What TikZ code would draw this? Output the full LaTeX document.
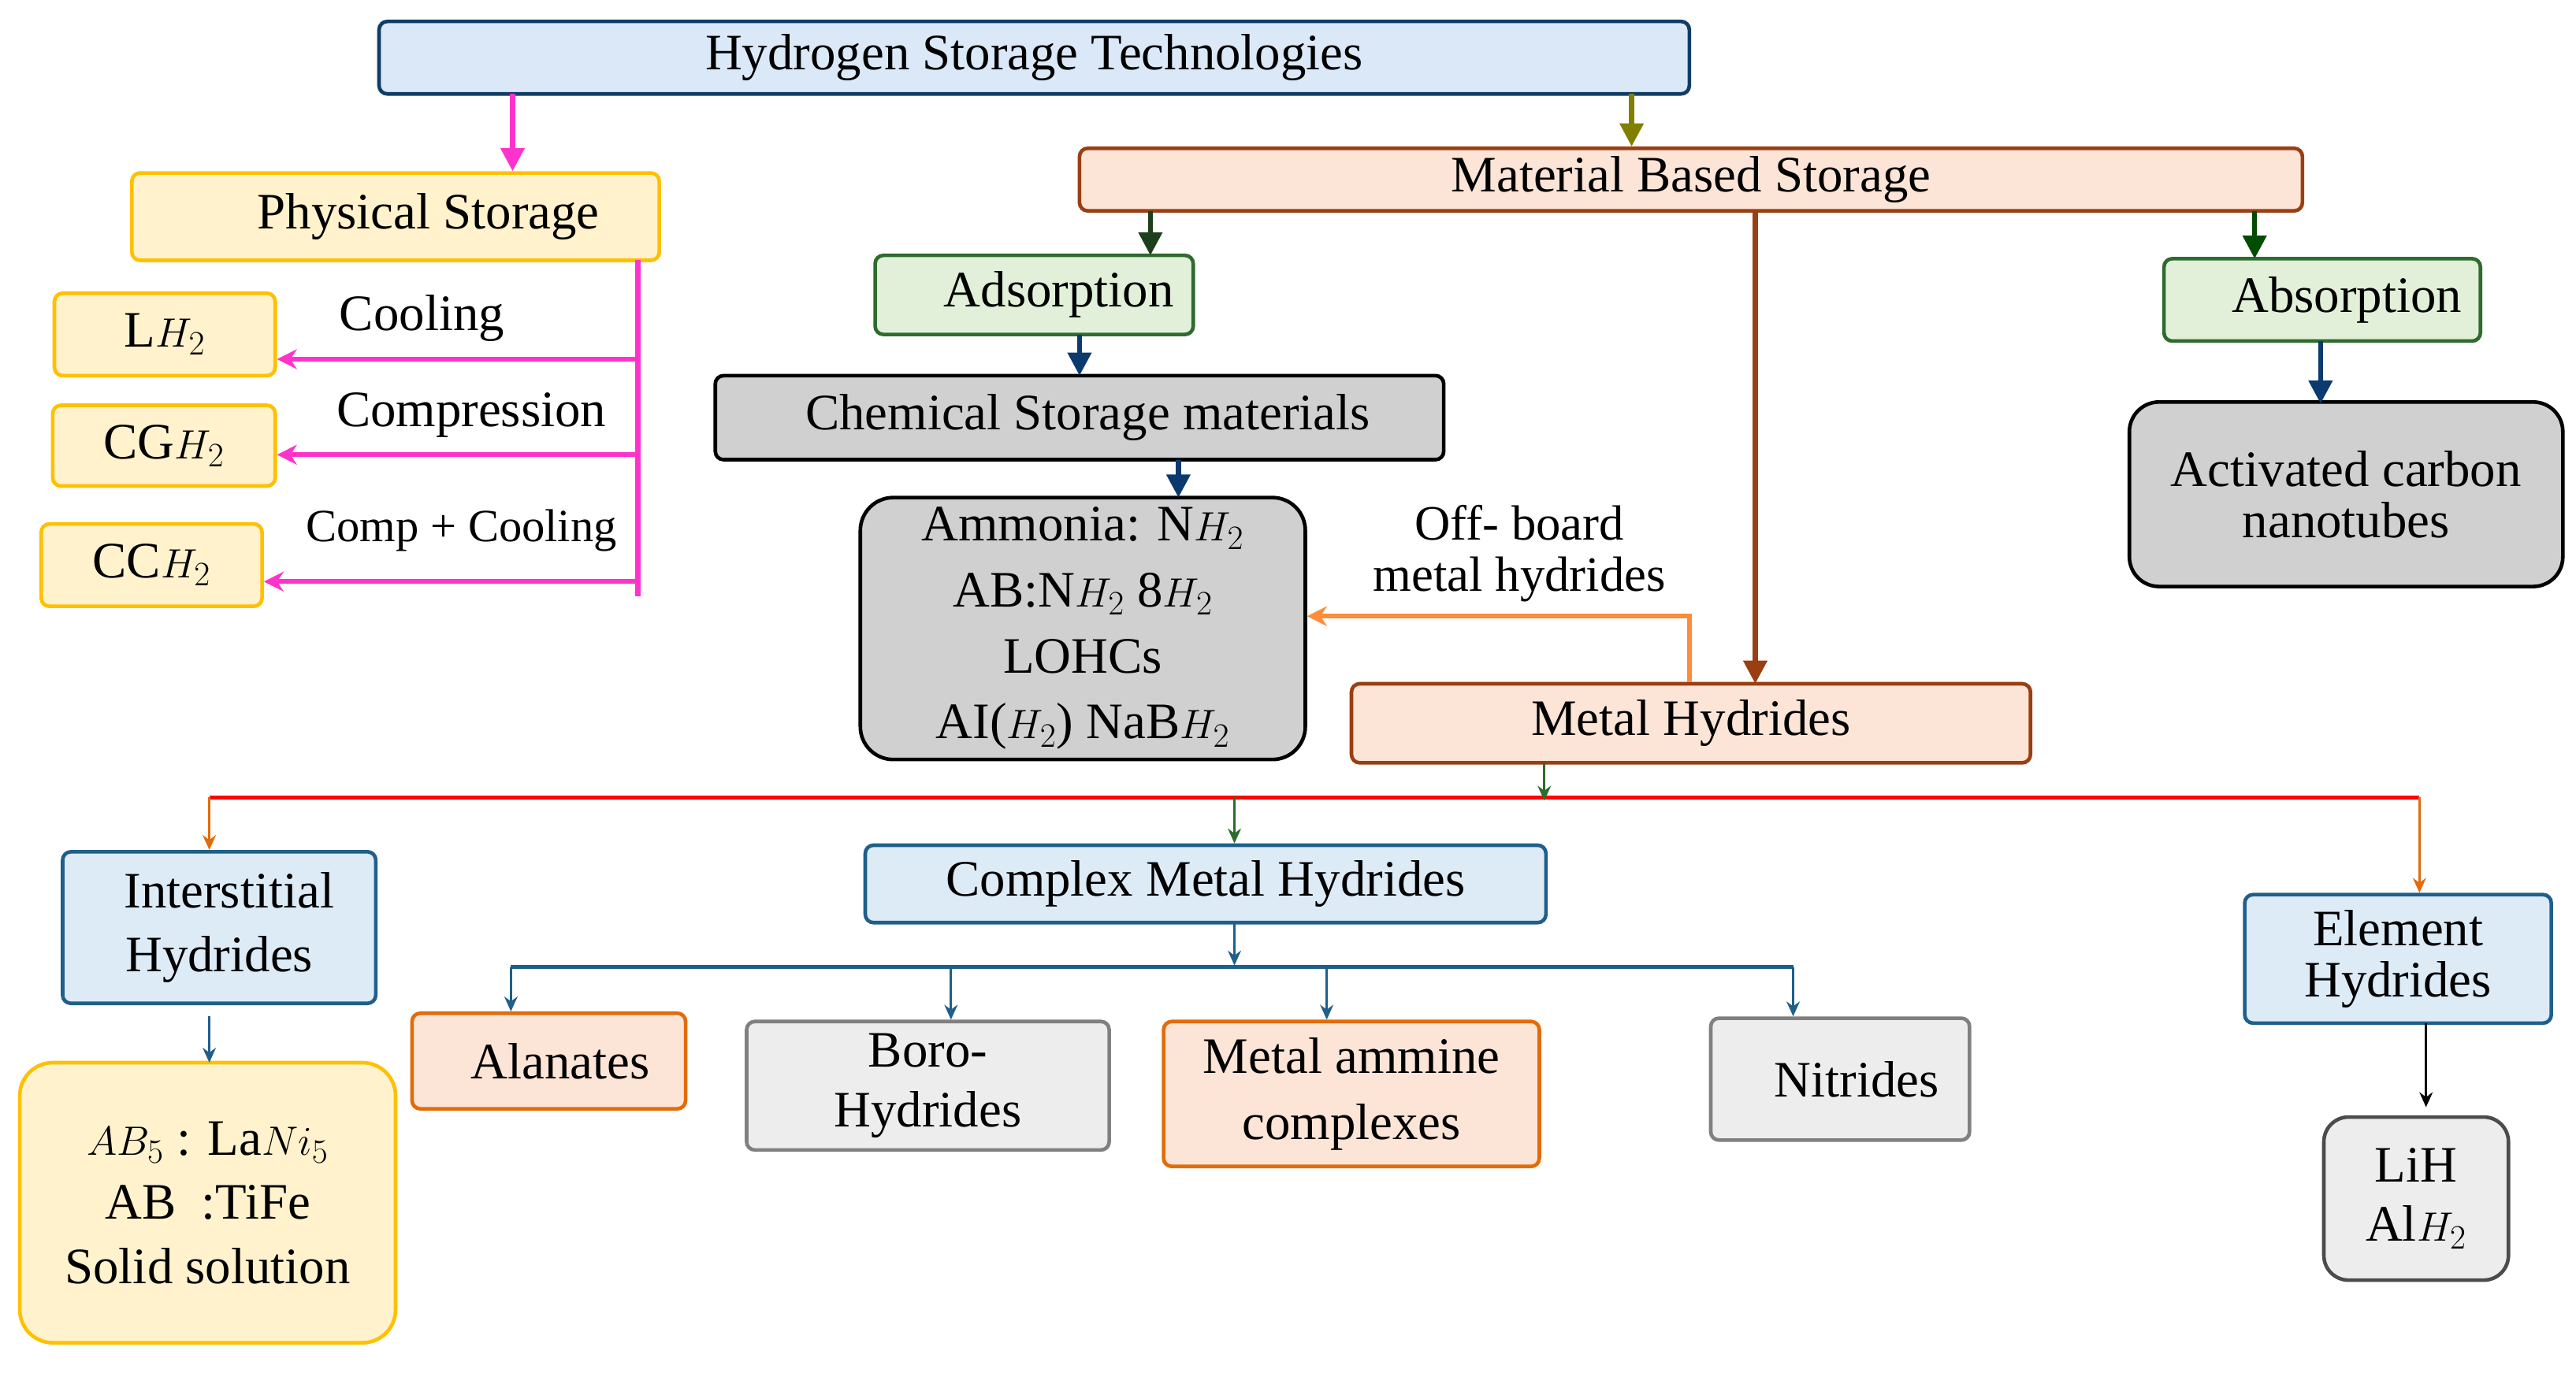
\documentclass[tikz,border=0pt]{standalone}
\usepackage{fontspec}
\setmainfont{Liberation Serif}
\usetikzlibrary{arrows.meta}
\definecolor{tblue}{HTML}{DAE8F8}
\definecolor{dblue}{HTML}{0F3D66}
\definecolor{yfill}{HTML}{FFF2CC}
\definecolor{ybord}{HTML}{FFC000}
\definecolor{peach}{HTML}{FCE4D6}
\definecolor{brown}{HTML}{9A3F12}
\definecolor{gfill}{HTML}{E2F0D9}
\definecolor{gbord}{HTML}{2E6B2E}
\definecolor{gray1}{HTML}{D0D0D0}
\definecolor{lgray}{HTML}{EDEDED}
\definecolor{mgray}{HTML}{808080}
\definecolor{ibord}{HTML}{1F5F8B}
\definecolor{ifill}{HTML}{DDEBF7}
\definecolor{obord}{HTML}{E26B0A}
\definecolor{mag}{HTML}{FF33CC}
\definecolor{olive}{HTML}{808000}
\definecolor{navy}{HTML}{0B3A6E}
\definecolor{ora}{HTML}{FF8C3A}
\begin{document}
\begin{tikzpicture}[x=1pt,y=-1pt,
 every node/.style={font=\fontsize{31}{34}\selectfont, inner sep=0pt, align=center},
 bx/.style={draw, line width=2.2pt, rounded corners=5pt},
 lb/.style={draw=none},
 ar/.style={-{Triangle[length=14pt,width=14pt]}, line width=3pt},
 sa/.style={-{Stealth[length=9pt,width=8pt]}, line width=1.6pt}]
\useasboundingbox (0,0) rectangle (1563,833);
% top
\node[bx,fill=tblue,draw=dblue,minimum width=795pt,minimum height=44pt] (top) at (627.5,35) {Hydrogen Storage Technologies};
\node[bx,fill=yfill,draw=ybord,minimum width=320pt,minimum height=53pt] (phys) at (240,131.5) {\hspace*{40pt}Physical Storage};
\node[bx,fill=yfill,draw=ybord,minimum width=134pt,minimum height=50pt] (lh) at (100,203) {L$H_2$};
\node[bx,fill=yfill,draw=ybord,minimum width=135pt,minimum height=49pt] (cgh) at (99.5,270.5) {CG$H_2$};
\node[bx,fill=yfill,draw=ybord,minimum width=134pt,minimum height=50pt] (cch) at (92,343) {CC$H_2$};
\coordinate (pv1) at (387,158);
\coordinate (pv2) at (387,362);
\coordinate (h1) at (387,218);
\coordinate (h2) at (387,276);
\coordinate (h3) at (387,353);
\draw[mag,line width=3pt] (pv1) -- (pv2);
\draw[mag,ar,-{Stealth[length=12pt,width=12pt]}] (h1) -- (lh.east|-h1);
\draw[mag,ar,-{Stealth[length=12pt,width=12pt]}] (h2) -- (cgh.east|-h2);
\draw[mag,ar,-{Stealth[length=12pt,width=12pt]}] (h3) -- (cch.east|-h3);
\node[lb] (l1) at (256,193) {Cooling};
\node[lb] (l2) at (286,252) {Compression};
\node[lb,font=\fontsize{28}{30}\selectfont] (l3) at (280,322) {Comp + Cooling};
\coordinate (tp) at (311,57);
\draw[mag,ar] (tp) -- (phys.north-|tp);
% material
\node[bx,fill=peach,draw=brown,minimum width=742pt,minimum height=38pt] (mat) at (1026,109) {Material Based Storage};
\draw[olive,ar] (990,57) -- (mat.north-|990,0);
\node[bx,fill=gfill,draw=gbord,minimum width=193pt,minimum height=48pt] (ads) at (627.5,179) {\hspace*{30pt}Adsorption};
\node[bx,fill=gfill,draw=gbord,minimum width=192pt,minimum height=50pt] (abs) at (1409,182) {\hspace*{30pt}Absorption};
\draw[gbord!60!black,ar] (698,128) -- (698,155);
\draw[black!70!green,ar] (1368,128) -- (1368,157);
\node[bx,fill=gray1,draw=black,minimum width=442pt,minimum height=51pt] (chem) at (655,253.5) {\hspace*{10pt}Chemical Storage materials};
\draw[navy,ar] (655,203) -- (655,228);
\node[bx,fill=gray1,draw=black,minimum width=270pt,minimum height=159pt,rounded corners=20pt,font=\fontsize{31}{40}\selectfont] (list) at (657,381.5) {Ammonia: N$H_2$\\ AB:N$H_2$ 8$H_2$\\ LOHCs\\ AI($H_2$) NaB$H_2$};
\draw[navy,ar] (715,279) -- (715,302);
\node[bx,fill=gray1,draw=black,minimum width=263pt,minimum height=112pt,rounded corners=18pt,font=\fontsize{31}{31}\selectfont] (act) at (1423.5,300) {Activated carbon\\ nanotubes};
\draw[navy,ar] (1408,207) -- (1408,245);
\node[bx,fill=peach,draw=brown,minimum width=412pt,minimum height=48pt] (mh) at (1026,439) {Metal Hydrides};
\draw[brown,ar] (1065,128) -- (1065,415);
\coordinate (oc) at (1025,374);
\draw[ora,line width=3pt,-{Stealth[length=12pt,width=12pt]}] (mh.north-|oc) -- (oc) -- (list.east|-oc);
\node[lb,font=\fontsize{30}{31}\selectfont] (ob) at (922,336) {Off- board\\ metal hydrides};
% red line
\coordinate (r1) at (127,484);
\coordinate (r2) at (1468,484);
\draw[red,line width=2.2pt] (r1) -- (r2);
\draw[gbord,sa] (937,463) -- (937,486);
\node[bx,fill=ifill,draw=ibord,minimum width=190pt,minimum height=92pt,font=\fontsize{31}{39}\selectfont] (inter) at (133,563) {\hspace*{12pt}Interstitial\\ Hydrides};
\node[bx,fill=ifill,draw=ibord,minimum width=413pt,minimum height=47pt] (cmh) at (731.5,536.5) {Complex Metal Hydrides};
\node[bx,fill=ifill,draw=ibord,minimum width=186pt,minimum height=78pt,font=\fontsize{31}{31}\selectfont] (elem) at (1455,582) {Element\\ Hydrides};
\draw[obord,sa] (r1) -- (inter.north-|r1);
\draw[gbord,sa] (749,484) -- (cmh.north-|749,0);
\draw[obord,sa] (r2) -- (elem.north-|r2);
\node[bx,fill=yfill,draw=ybord,minimum width=228pt,minimum height=170pt,rounded corners=20pt,font=\fontsize{31}{39}\selectfont] (ab5) at (126,730) {$AB_5$ : La$Ni_5$\\ AB \ :TiFe\\ Solid solution};
\draw[ibord,sa] (127,617) -- (127,645);
% complex children
\coordinate (c1) at (310,587);
\coordinate (c2) at (1088,587);
\draw[ibord,sa] (749,560) -- (749,586);
\draw[ibord,line width=2.2pt] (c1) -- (c2);
\node[bx,fill=peach,draw=obord,minimum width=166pt,minimum height=58pt] (alan) at (333,644) {\hspace*{14pt}Alanates};
\node[bx,fill=lgray,draw=mgray,minimum width=220pt,minimum height=78pt,font=\fontsize{31}{36}\selectfont] (boro) at (563,659) {Boro-\\ Hydrides};
\node[bx,fill=peach,draw=obord,minimum width=228pt,minimum height=88pt,font=\fontsize{31}{40}\selectfont] (amm) at (820,664) {Metal ammine\\ complexes};
\node[bx,fill=lgray,draw=mgray,minimum width=157pt,minimum height=74pt] (nit) at (1116.5,655) {\hspace*{20pt}Nitrides};
\draw[ibord,sa] (c1) -- (alan.north-|c1);
\draw[ibord,sa] (577,587) -- (boro.north-|577,0);
\draw[ibord,sa] (805,587) -- (amm.north-|805,0);
\draw[ibord,sa] (c2) -- (nit.north-|c2);
\node[bx,fill=lgray,draw=black!70,minimum width=112pt,minimum height=99pt,rounded corners=15pt,font=\fontsize{31}{36}\selectfont] (lih) at (1466,727.5) {LiH\\ Al$H_2$};
\draw[black,sa] (1472,621) -- (1472,672);
\end{tikzpicture}
\end{document}
